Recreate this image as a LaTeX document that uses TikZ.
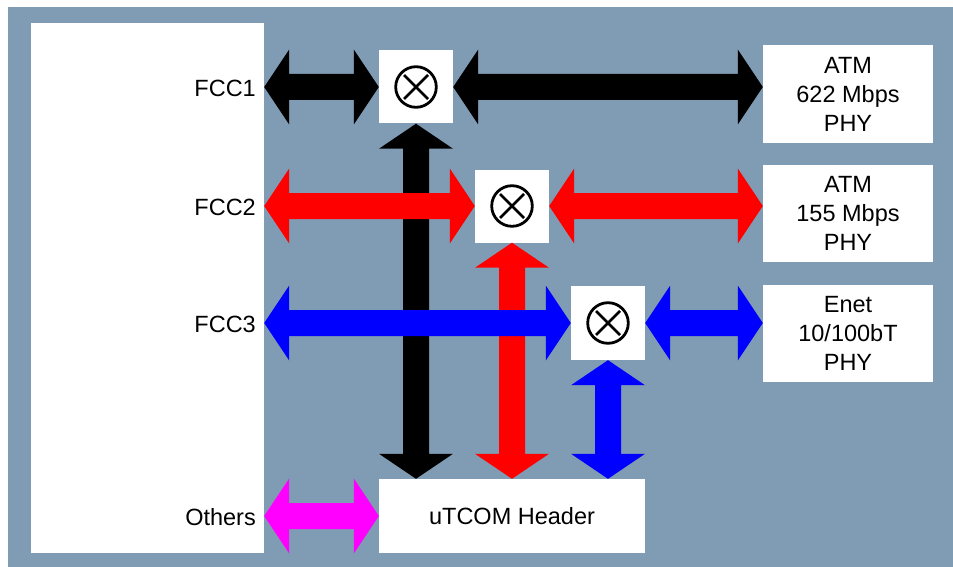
\documentclass[tikz,border=0pt]{standalone}
\usepackage{fontspec}
\setmainfont{Liberation Sans}
\usetikzlibrary{calc}
\definecolor{bgslate}{RGB}{128,155,180}
\definecolor{magentaA}{RGB}{255,0,255}
\newcommand\hdarrow[3]{%
  \fill[#1] let \p1=(#2), \p2=(#3) in
    (\x1,\y1) -- (\x1+25pt,\y1+37.5pt) -- (\x1+25pt,\y1+13pt) -- (\x2-25pt,\y1+13pt)
    -- (\x2-25pt,\y1+37.5pt) -- (\x2,\y1) -- (\x2-25pt,\y1-37.5pt) -- (\x2-25pt,\y1-13pt)
    -- (\x1+25pt,\y1-13pt) -- (\x1+25pt,\y1-37.5pt) -- cycle;}
\newcommand\vdarrow[3]{%
  \fill[#1] let \p1=(#2), \p2=(#3) in
    (\x1,\y1) -- (\x1+37pt,\y1-25pt) -- (\x1+13pt,\y1-25pt) -- (\x1+13pt,\y2+25pt)
    -- (\x1+37pt,\y2+25pt) -- (\x1,\y2) -- (\x1-37pt,\y2+25pt) -- (\x1-13pt,\y2+25pt)
    -- (\x1-13pt,\y1-25pt) -- (\x1-37pt,\y1-25pt) -- cycle;}
\begin{document}
\begin{tikzpicture}[x=1pt,y=-1pt,
  wbox/.style={fill=white, draw=none, inner sep=0pt, align=center,
    font=\fontsize{23.5}{29}\selectfont},
  lbl/.style={inner sep=0pt, font=\fontsize{23.5}{29}\selectfont, anchor=base east},
  muxsym/.style={line width=2.8pt}]
\useasboundingbox (0,0) rectangle (953,567);
\fill[white] (0,0) rectangle (953,567);
\fill[bgslate] (8,7) rectangle (953,567);
% boxes
\node[wbox, minimum width=233pt, minimum height=529.5pt] (panel) at (147.5,287.75) {};
\node[wbox, minimum width=74pt, minimum height=73pt] (mux1) at (416,87) {};
\node[wbox, minimum width=74pt, minimum height=73pt] (mux2) at (512,206) {};
\node[wbox, minimum width=74pt, minimum height=74pt] (mux3) at (608,323) {};
\node[wbox, minimum width=170pt, minimum height=98pt] (phy1) at (848,94) {ATM\\622 Mbps\\PHY};
\node[wbox, minimum width=170pt, minimum height=97pt] (phy2) at (848,213.5) {ATM\\155 Mbps\\PHY};
\node[wbox, minimum width=170pt, minimum height=97pt] (phy3) at (848,333.5) {Enet\\10/100bT\\PHY};
\node[wbox, minimum width=266pt, minimum height=74pt] (utcom) at (512,516) {uTCOM Header};
% labels
\node[lbl] (l1) at (256,96.5) {FCC1};
\node[lbl] (l2) at (256,215.5) {FCC2};
\node[lbl] (l3) at (256,332) {FCC3};
\node[lbl] (l4) at (256,525) {Others};
% mux symbols
\foreach \m in {mux1,mux2,mux3}{
  \draw[muxsym] (\m.center) circle (20.3pt);
  \draw[muxsym] ($(\m.center)+(-12,-12)$) -- ($(\m.center)+(12,12)$);
  \draw[muxsym] ($(\m.center)+(-12,12)$) -- ($(\m.center)+(12,-12)$);
}
% vertical arrows
\vdarrow{black}{mux1.south}{mux1.south |- utcom.north}
\vdarrow{red}{mux2.south}{mux2.south |- utcom.north}
\vdarrow{blue}{mux3.south}{mux3.south |- utcom.north}
% horizontal arrows
\hdarrow{black}{panel.east |- mux1.center}{mux1.west}
\hdarrow{black}{mux1.east}{phy1.west |- mux1.east}
\hdarrow{red}{panel.east |- mux2.center}{mux2.west}
\hdarrow{red}{mux2.east}{phy2.west |- mux2.east}
\hdarrow{blue}{panel.east |- mux3.center}{mux3.west}
\hdarrow{blue}{mux3.east}{phy3.west |- mux3.east}
\hdarrow{magentaA}{panel.east |- utcom.center}{utcom.west}
\end{tikzpicture}
\end{document}
